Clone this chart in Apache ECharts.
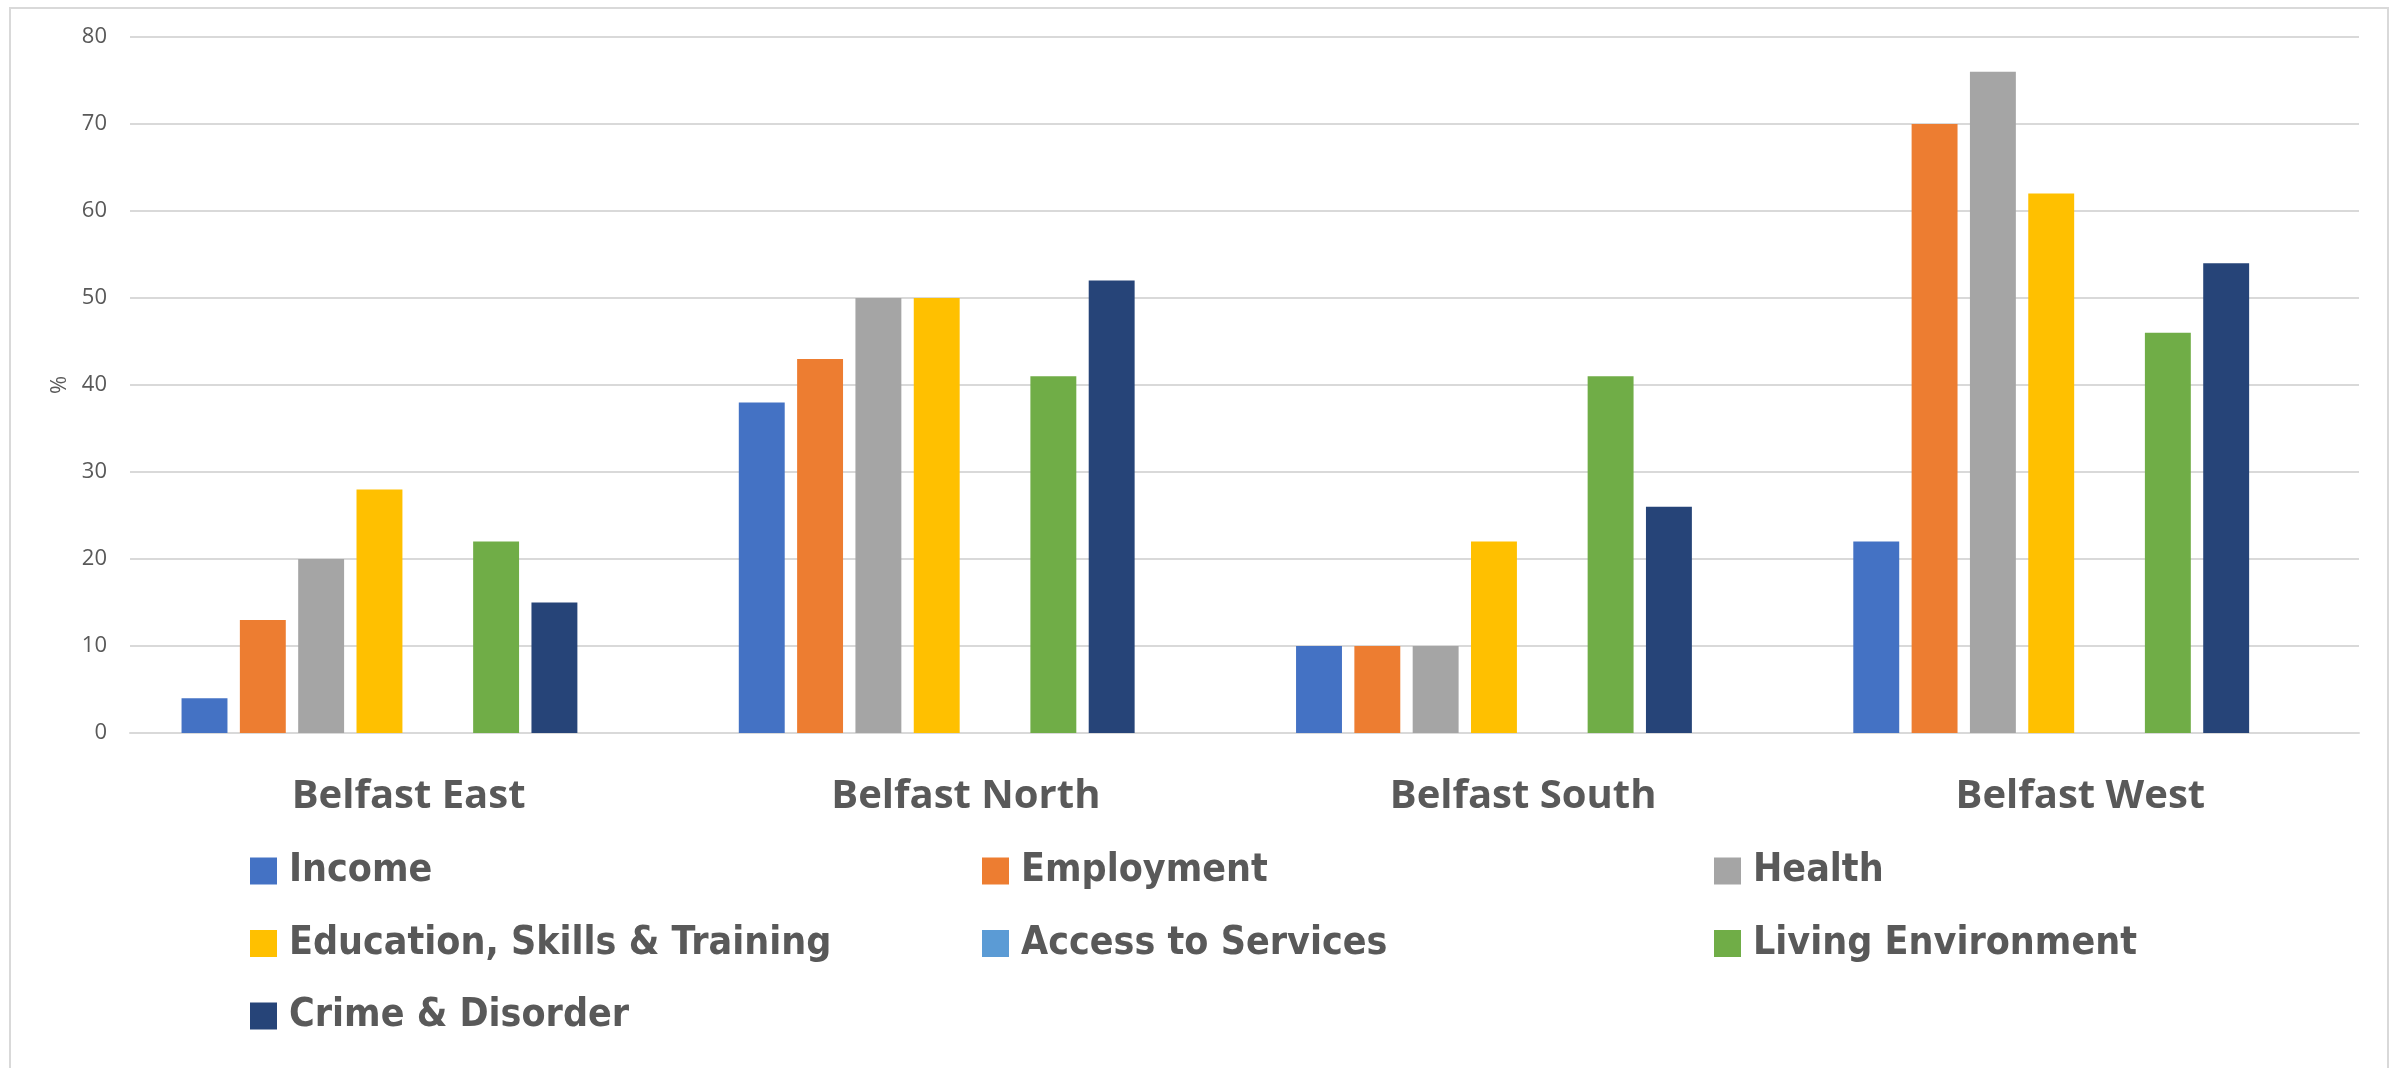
<!DOCTYPE html>
<html>
<head>
<meta charset="utf-8">
<title>Belfast deprivation domains</title>
<script src="https://cdn.jsdelivr.net/npm/echarts@6/dist/echarts.min.js"></script>
<style>
  html, body { margin: 0; padding: 0; background: #fff; }
  #chart { width: 2400px; height: 1068px; }
</style>
</head>
<body>
<div id="chart"></div>
<script>
// constituencies on the x axis
const categories = ['Belfast East', 'Belfast North', 'Belfast South', 'Belfast West']

// % per domain
const income = [4, 38, 10, 22]
const employment = [13, 43, 10, 70]
const health = [20, 50, 10, 76]
const education = [28, 50, 22, 62]
const accessToServices = [0, 0, 0, 0]
const livingEnvironment = [22, 41, 41, 46]
const crime = [15, 52, 26, 54]
// the source sheet has an eighth, blank column that keeps its slot in each group
const blankColumn = [null, null, null, null]

const yTicks = { min: 0, max: 80, interval: 10 }

const textGrey = '#595959'
const gridGrey = '#d9d9d9'

const seriesDefs = [
  { name: 'Income', data: income, color: '#4472C4' },
  { name: 'Employment', data: employment, color: '#ED7D31' },
  { name: 'Health', data: health, color: '#A5A5A5' },
  { name: 'Education, Skills & Training', data: education, color: '#FFC000' },
  { name: 'Access to Services', data: accessToServices, color: '#5B9BD5' },
  { name: 'Living Environment', data: livingEnvironment, color: '#70AD47' },
  { name: 'Crime & Disorder', data: crime, color: '#264478' },
  { name: '', data: blankColumn, color: '#ffffff' },
]

const legendText = {
  color: textGrey,
  fontFamily: "'Liberation Sans Narrow', 'DejaVu Sans Condensed', 'Open Sans'",
  fontWeight: 'bold',
  fontSize: 39,
  lineHeight: 48,
  padding: [0, 0, 0, 7],
}

const legendColumn = (left, names) => ({
  orient: 'vertical',
  left,
  top: 847,
  padding: 0,
  itemWidth: 27,
  itemHeight: 27,
  itemGap: 24.5,
  icon: 'rect',
  selectedMode: false,
  textStyle: legendText,
  data: names,
})

const chart = echarts.init(document.getElementById('chart'))

chart.setOption({
  animation: false,
  backgroundColor: '#ffffff',
  graphic: [{
    type: 'rect',
    shape: { x: 10, y: 8, width: 2378, height: 1100 },
    style: { fill: 'none', stroke: gridGrey, lineWidth: 2 },
    silent: true,
  }],
  grid: { left: 130, right: 41, top: 37, bottom: 335, containLabel: false },
  legend: [
    legendColumn(250, ['Income', 'Education, Skills & Training', 'Crime & Disorder']),
    legendColumn(982, ['Employment', 'Access to Services']),
    legendColumn(1714, ['Health', 'Living Environment']),
  ],
  xAxis: {
    type: 'category',
    data: categories,
    axisLine: { lineStyle: { color: gridGrey, width: 2 } },
    axisTick: { show: false },
    axisLabel: {
      color: textGrey,
      fontFamily: 'Open Sans',
      fontWeight: 'bold',
      fontSize: 40,
      margin: 44,
    },
  },
  yAxis: {
    type: 'value',
    min: yTicks.min,
    max: yTicks.max,
    interval: yTicks.interval,
    name: '%',
    nameLocation: 'middle',
    nameGap: 56,
    nameTextStyle: { color: textGrey, fontFamily: 'Open Sans', fontSize: 22 },
    axisLine: { show: false },
    axisTick: { show: false },
    splitLine: { lineStyle: { color: gridGrey, width: 2 } },
    axisLabel: { color: textGrey, fontFamily: 'Open Sans', fontSize: 22, margin: 23 },
  },
  series: seriesDefs.map(s => ({
    type: 'bar',
    name: s.name,
    data: s.data,
    barGap: '27%',
    barCategoryGap: '18.5%',
    itemStyle: { color: s.color },
  })),
})
</script>
</body>
</html>
